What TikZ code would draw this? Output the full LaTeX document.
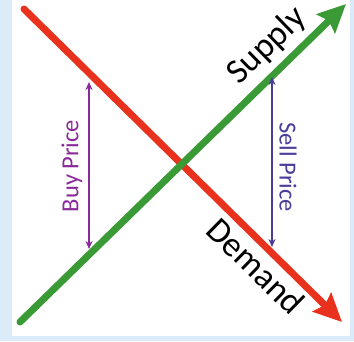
\documentclass[tikz,border=0pt]{standalone}
\usepackage{fontspec}
\setmainfont{Carlito}
\usetikzlibrary{arrows.meta}
\definecolor{bgblue}{HTML}{DCEBFA}
\definecolor{dred}{HTML}{E8321E}
\definecolor{sgreen}{HTML}{3A9A35}
\definecolor{buyc}{HTML}{8B2A9A}
\definecolor{sellc}{HTML}{4A3D9A}
\tikzset{
  curve/.style={line width=7pt, line cap=round, -{Stealth[length=28pt,width=26pt,inset=4pt]}},
  price/.style={line width=1.3pt, {Stealth[length=8pt,width=7pt]}-{Stealth[length=8pt,width=7pt]}},
  pricelabel/.style={font=\fontsize{24.5}{24.5}\selectfont, inner sep=0pt},
  curvelabel/.style={font=\fontsize{35}{35}\selectfont, inner sep=0pt, text=black}
}
\begin{document}
\begin{tikzpicture}[x=1pt,y=-1pt]
\useasboundingbox (0,0) rectangle (354,341);
\fill[bgblue] (0,0) rectangle (354,341);
\fill[white] (12,0) rectangle (350,336);
% named points
\coordinate (d0) at (24,9);
\coordinate (d1) at (342,322);
\coordinate (s0) at (20,322);
\coordinate (s1) at (346,4);
\coordinate (b0) at (89,82);
\coordinate (b1) at (89,249);
\coordinate (p0) at (272,77);
\coordinate (p1) at (272,247);
% curves
\draw[curve, dred] (d0) -- (d1);
\draw[curve, sgreen] (s0) -- (s1);
% price arrows
\draw[price, buyc] (b0) -- (b1);
\draw[price, sellc] (p0) -- (p1);
% labels
\node[pricelabel, text=buyc, rotate=90] (buy) at (72,166) {Buy Price};
\node[pricelabel, text=sellc, rotate=-90] (sell) at (288,167) {Sell Price};
\node[curvelabel, rotate=44.3] (supply) at (267,46) {Supply};
\node[curvelabel, rotate=-44.5] (demand) at (256,266) {Demand};
\end{tikzpicture}
\end{document}
